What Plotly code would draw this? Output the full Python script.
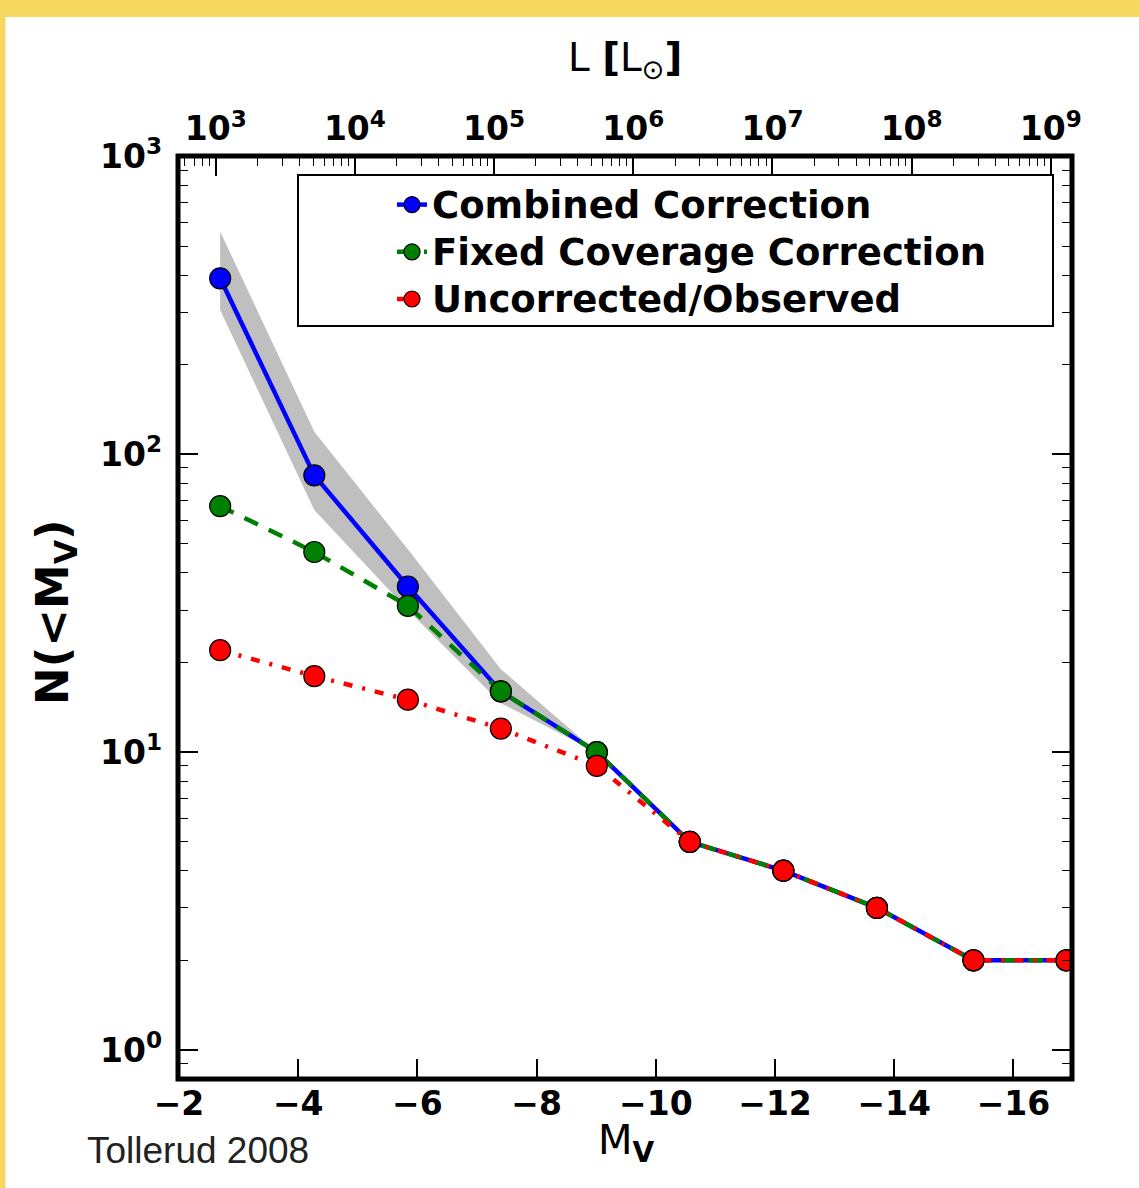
import plotly.graph_objects as go

# ---------------- data ----------------
M_V = [-2.69, -4.27, -5.84, -7.40, -9.01, -10.57, -12.14, -13.71, -15.33, -16.89]
combined = [390, 85, 36, 16, 10, 5, 4, 3, 2, 2]
fixed_cov = [67, 47, 31, 16, 10, 5, 4, 3, 2, 2]
observed = [22, 18, 15, 12, 9, 5, 4, 3, 2, 2]

band_MV = [-2.69, -4.27, -5.84, -7.40, -9.01]
band_upper = [560, 119, 48, 19, 10]
band_lower = [305, 65, 30, 14.6, 10]

series_names = ["Combined Correction", "Fixed Coverage Correction", "Uncorrected/Observed"]

x_ticks = [-2, -4, -6, -8, -10, -12, -14, -16]
x_ticklabels = ["<b>\u22122</b>", "<b>\u22124</b>", "<b>\u22126</b>", "<b>\u22128</b>",
                "<b>\u221210</b>", "<b>\u221212</b>", "<b>\u221214</b>", "<b>\u221216</b>"]
y_ticks = [1, 10, 100, 1000]
y_ticklabels = ["<b>10<sup>0</sup></b>", "<b>10<sup>1</sup></b>",
                "<b>10<sup>2</sup></b>", "<b>10<sup>3</sup></b>"]
L_ticks = [1e3, 1e4, 1e5, 1e6, 1e7, 1e8, 1e9]
L_ticklabels = ["<b>10<sup>%d</sup></b>" % k for k in range(3, 10)]

# minor tick positions (log axes)
y_minor = [m * 10 ** e for e in range(-1, 3) for m in range(2, 10)]
L_minor = [m * 10 ** e for e in range(2, 10) for m in range(2, 10)]

# ---------------- geometry ----------------
W, H = 1139, 1188
ML, MR, MT, MB = 178, 67, 156, 109
PW, PH = W - ML - MR, H - MT - MB


def px(x):
    return (x - ML) / PW


def py(y):
    return (H - MB - y) / PH


FONT = "DejaVu Sans"

fig = go.Figure()

# uncertainty band
fig.add_trace(go.Scatter(x=band_MV, y=band_upper, mode="lines", line=dict(width=0, color="#bfbfbf"),
                         showlegend=False, hoverinfo="skip"))
fig.add_trace(go.Scatter(x=band_MV, y=band_lower, mode="lines", line=dict(width=0, color="#bfbfbf"),
                         fill="tonexty", fillcolor="#bfbfbf", showlegend=False, hoverinfo="skip"))


def legend_name(s):
    return '<span style="font-size:37px">%s</span>' % s


mk = dict(size=21, line=dict(color="black", width=1.2))
fig.add_trace(go.Scatter(x=M_V, y=combined, mode="lines+markers", name=legend_name(series_names[0]),
                         line=dict(color="blue", width=4.5),
                         marker=dict(color="blue", **mk)))
fig.add_trace(go.Scatter(x=M_V, y=fixed_cov, mode="lines+markers", name=legend_name(series_names[1]),
                         line=dict(color="green", width=4.5, dash="15px,12px"),
                         marker=dict(color="green", **mk)))
fig.add_trace(go.Scatter(x=M_V, y=observed, mode="lines+markers", name=legend_name(series_names[2]),
                         line=dict(color="red", width=4.5, dash="9px,10px,3px,10px"),
                         marker=dict(color="red", **mk)))

# dummy trace to bind the top luminosity axis
fig.add_trace(go.Scatter(x=[1e3, 1e9], y=[None, None], xaxis="x2", mode="lines",
                         showlegend=False, hoverinfo="skip"))
# dummy trace to bind the right-hand y ticks
fig.add_trace(go.Scatter(x=[-5, -6], y=[None, None], yaxis="y2", mode="lines",
                         showlegend=False, hoverinfo="skip"))

tickfont = dict(family=FONT, size=33, color="black")

fig.update_layout(
    width=W, height=H,
    margin=dict(l=ML, r=MR, t=MT, b=MB, pad=0),
    paper_bgcolor="white", plot_bgcolor="white",
    font=dict(family=FONT, color="black"),
    showlegend=True,
    legend=dict(x=px(392), y=py(176), xanchor="left", yanchor="top",
                bgcolor="rgba(0,0,0,0)", borderwidth=0, traceorder="normal",
                font=dict(family=FONT, size=34, color="black", weight="bold"),
                tracegroupgap=0),
    xaxis=dict(range=[-1.983, -16.983], showgrid=False, zeroline=False,
               tickmode="array", tickvals=x_ticks, ticktext=x_ticklabels,
               ticks="inside", ticklen=20, tickwidth=1.5, tickcolor="black",
               showline=False, ticklabelstandoff=2, tickfont=tickfont),
    xaxis2=dict(type="log", range=[2.729, 9.152], overlaying="x", side="top", anchor="y",
                showgrid=False, zeroline=False,
                tickmode="array", tickvals=L_ticks, ticktext=L_ticklabels,
                ticks="inside", ticklen=20, tickwidth=1.5, tickcolor="black",
                minor=dict(tickmode="array", tickvals=L_minor, ticks="inside", ticklen=10,
                           tickwidth=1.2, tickcolor="black", showgrid=False),
                showline=False, ticklabelstandoff=8, tickfont=tickfont),
    yaxis=dict(type="log", range=[-0.0974, 3.0017], showgrid=False, zeroline=False,
               tickmode="array", tickvals=y_ticks, ticktext=y_ticklabels,
               ticks="inside", ticklen=20, tickwidth=1.5, tickcolor="black",
               minor=dict(tickmode="array", tickvals=y_minor, ticks="inside", ticklen=10,
                          tickwidth=1.2, tickcolor="black", showgrid=False),
               showline=False, ticklabelstandoff=15,
               tickfont=tickfont),
    yaxis2=dict(type="log", range=[-0.0974, 3.0017], overlaying="y", side="right", anchor="x",
                showgrid=False, zeroline=False, showticklabels=False,
                tickmode="array", tickvals=y_ticks,
                ticks="inside", ticklen=20, tickwidth=1.5, tickcolor="black",
                minor=dict(tickmode="array", tickvals=y_minor, ticks="inside", ticklen=10,
                           tickwidth=1.2, tickcolor="black", showgrid=False),
                showline=False),
)

# plot frame
fig.add_shape(type="rect", xref="paper", yref="paper", x0=0, x1=1, y0=0, y1=1,
              fillcolor="rgba(0,0,0,0)", line=dict(color="black", width=5), layer="above")

# yellow frame strips
fig.add_shape(type="rect", xref="paper", yref="paper", x0=px(0), x1=px(W), y0=py(17), y1=py(0),
              fillcolor="#F6D860", line=dict(width=0), layer="above")
fig.add_shape(type="rect", xref="paper", yref="paper", x0=px(0), x1=px(5.5), y0=py(H), y1=py(0),
              fillcolor="#F6D860", line=dict(width=0), layer="above")
# legend frame
fig.add_shape(type="rect", xref="paper", yref="paper", x0=px(298), x1=px(1053), y0=py(326), y1=py(175),
              fillcolor="rgba(0,0,0,0)", line=dict(color="black", width=2), layer="above")

# axis titles
fig.add_annotation(x=px(625), y=py(60), xref="paper", yref="paper", showarrow=False,
                   xanchor="center", yanchor="middle",
                   text="L <b>[</b>L<sub>\u2299</sub><b>]</b>",
                   font=dict(family=FONT, size=39, color="black"))
fig.add_annotation(x=px(55), y=py(612), xref="paper", yref="paper", showarrow=False, textangle=-90,
                   xanchor="center", yanchor="middle",
                   text="<b>N(&lt;M<sub>V</sub>)</b>",
                   font=dict(family=FONT, size=45, color="black"))
fig.add_annotation(x=px(626), y=py(1143), xref="paper", yref="paper", showarrow=False,
                   xanchor="center", yanchor="middle",
                   text="M<sub><b>V</b></sub>",
                   font=dict(family=FONT, size=40, color="black"))
fig.add_annotation(x=px(85), y=py(1150), xref="paper", yref="paper", showarrow=False,
                   xanchor="left", yanchor="middle", text="Tollerud 2008",
                   font=dict(family="Liberation Sans", size=37, color="#222222"))

fig.write_html("out.html")
